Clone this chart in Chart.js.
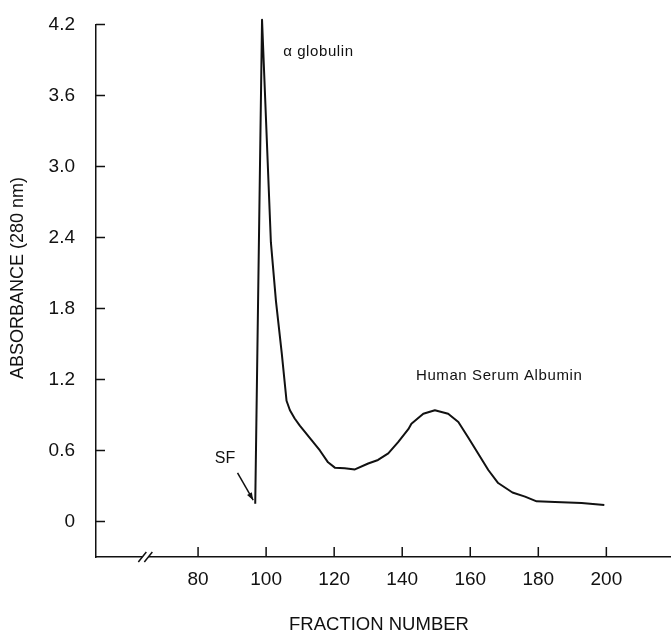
<!DOCTYPE html>
<html>
<head>
<meta charset="utf-8">
<script src="https://cdn.jsdelivr.net/npm/chart.js@4"></script>
<style>
  body { margin: 0; background: #fff; }
</style>
</head>
<body>
<canvas id="elution-chart" width="671" height="635"></canvas>
<script>
// fraction number vs absorbance
const fractions = [96.8, 98.8, 101.4, 102.9, 104.6, 106.0, 107.0, 108.4, 109.9, 113.3, 115.8,
  118.2, 120.2, 123.1, 126.1, 130.0, 132.9, 135.9, 138.8, 141.8, 142.7, 146.2, 149.6, 153.5,
  156.5, 159.4, 162.4, 165.3, 168.2, 172.4, 176.1, 179.5, 184.9, 192.7, 199.4];
const absorbance = [0.15, 4.24, 2.36, 1.86, 1.42, 1.02, 0.94, 0.87, 0.81, 0.69, 0.60,
  0.50, 0.455, 0.45, 0.44, 0.49, 0.52, 0.575, 0.67, 0.78, 0.825, 0.91, 0.94, 0.91,
  0.84, 0.71, 0.57, 0.435, 0.325, 0.245, 0.21, 0.17, 0.165, 0.156, 0.14];
const xTicks = [80, 100, 120, 140, 160, 180, 200];
const yTicks = [0, 0.6, 1.2, 1.8, 2.4, 3.0, 3.6, 4.2];

const points = fractions.map((f, i) => ({x: f, y: absorbance[i]}));
const ink = '#111';
const face = '"Liberation Sans", Arial, sans-serif';

// inward tick marks, axis break, axis titles and the text notes
const extras = {
  id: 'extras',
  afterDraw(chart) {
    const ctx = chart.ctx;
    const xs = chart.scales.x, ys = chart.scales.y;
    const area = chart.chartArea;
    ctx.save();
    ctx.strokeStyle = ink;
    ctx.lineWidth = 1.5;
    ctx.beginPath();
    yTicks.forEach(v => {
      const py = ys.getPixelForValue(v);
      ctx.moveTo(area.left, py);
      ctx.lineTo(area.left + 9, py);
    });
    xTicks.forEach(v => {
      const px = xs.getPixelForValue(v);
      ctx.moveTo(px, area.bottom);
      ctx.lineTo(px, area.bottom - 10);
    });
    ctx.stroke();

    // break on the x axis
    const bx = xs.getPixelForValue(64.5), by = area.bottom;
    ctx.fillStyle = '#fff';
    ctx.fillRect(bx - 3, by - 2, 6, 4);
    ctx.beginPath();
    [-3, 3].forEach(d => {
      ctx.moveTo(bx + d - 4, by + 5);
      ctx.lineTo(bx + d + 4, by - 5);
    });
    ctx.stroke();

    // SF arrow
    const ax0 = xs.getPixelForValue(91.6), ay0 = ys.getPixelForValue(0.41);
    const ax1 = xs.getPixelForValue(96.2), ay1 = ys.getPixelForValue(0.18);
    ctx.beginPath();
    ctx.moveTo(ax0, ay0);
    ctx.lineTo(ax1, ay1);
    ctx.stroke();
    const ang = Math.atan2(ay1 - ay0, ax1 - ax0);
    ctx.fillStyle = ink;
    ctx.beginPath();
    ctx.moveTo(ax1, ay1);
    ctx.lineTo(ax1 - 8 * Math.cos(ang - 0.35), ay1 - 8 * Math.sin(ang - 0.35));
    ctx.lineTo(ax1 - 8 * Math.cos(ang + 0.35), ay1 - 8 * Math.sin(ang + 0.35));
    ctx.closePath();
    ctx.fill();

    ctx.textBaseline = 'middle';
    ctx.font = '15px ' + face;
    ctx.letterSpacing = '0.6px';
    ctx.textAlign = 'left';
    ctx.fillText('α globulin', xs.getPixelForValue(105.0), ys.getPixelForValue(3.97));
    ctx.textAlign = 'center';
    ctx.fillText('Human Serum Albumin', xs.getPixelForValue(168.5), ys.getPixelForValue(1.23));
    ctx.letterSpacing = '0px';
    ctx.font = '16px ' + face;
    ctx.fillText('SF', xs.getPixelForValue(87.9), ys.getPixelForValue(0.535));

    // axis titles
    ctx.font = '18.5px ' + face;
    ctx.fillText('FRACTION NUMBER', 379, 625);
    ctx.translate(18, 278);
    ctx.rotate(-Math.PI / 2);
    ctx.font = '18px ' + face;
    ctx.fillText('ABSORBANCE (280 nm)', 0, 0);
    ctx.restore();
  }
};

new Chart(document.getElementById('elution-chart'), {
  type: 'line',
  data: {
    datasets: [{
      data: points,
      borderColor: ink,
      borderWidth: 2,
      borderJoinStyle: 'round',
      pointRadius: 0,
      tension: 0,
      clip: false
    }]
  },
  options: {
    responsive: false,
    animation: false,
    layout: { padding: { top: 10, right: 0, left: 0, bottom: 0 } },
    plugins: { legend: { display: false }, tooltip: { enabled: false } },
    scales: {
      x: {
        type: 'linear',
        min: 50,
        max: 219,
        grid: { display: false },
        border: { display: true, color: ink, width: 1.5 },
        afterBuildTicks: s => { s.ticks = xTicks.map(v => ({value: v})); },
        afterFit: s => { s.height = 78; },
        ticks: {
          color: ink,
          padding: 3,
          font: { family: face, size: 19 }
        }
      },
      y: {
        min: -0.3,
        max: 4.2,
        grid: { display: false },
        border: { display: true, color: ink, width: 1.5 },
        afterBuildTicks: s => { s.ticks = yTicks.map(v => ({value: v})); },
        afterFit: s => { s.width = 96; },
        ticks: {
          color: ink,
          padding: 13,
          font: { family: face, size: 19 },
          callback: v => v === 0 ? '0' : v.toFixed(1)
        }
      }
    }
  },
  plugins: [extras]
});
</script>
</body>
</html>
